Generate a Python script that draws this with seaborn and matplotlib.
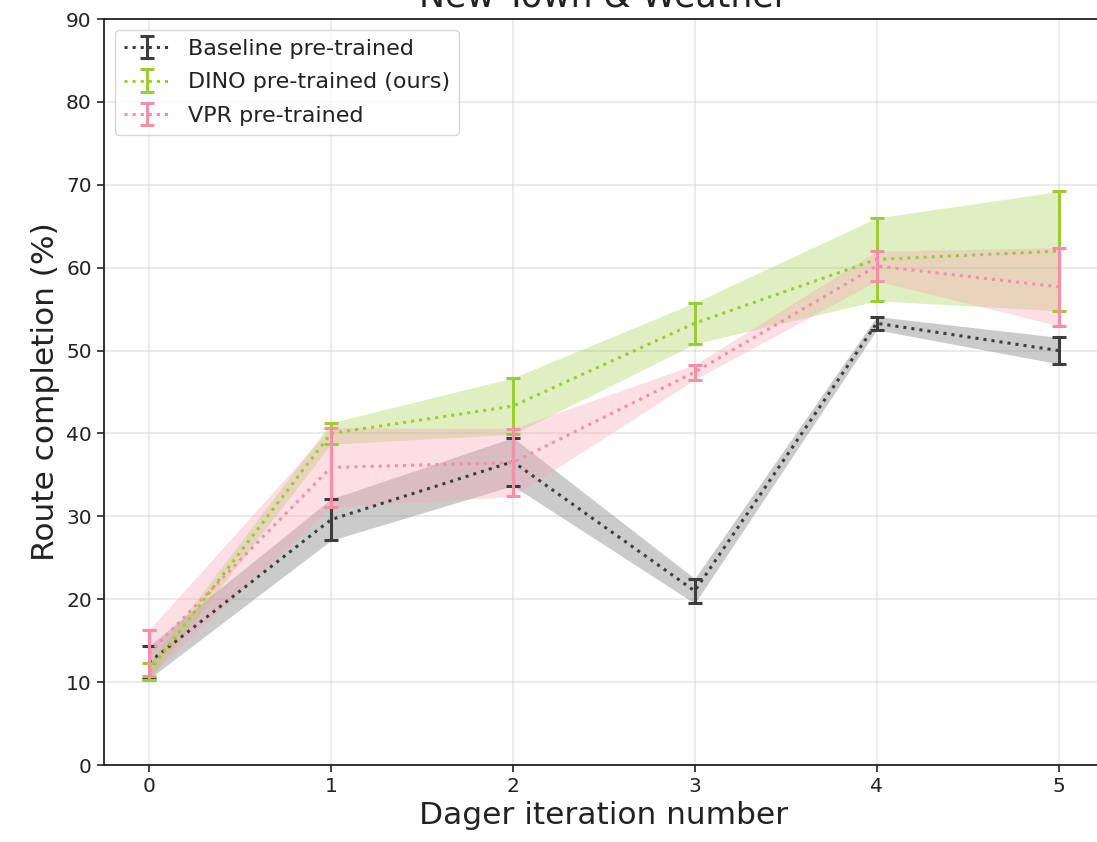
import numpy as np
import pandas as pd
import matplotlib
matplotlib.use("Agg")
import matplotlib.pyplot as plt
from matplotlib.container import ErrorbarContainer
import seaborn as sns

iterations = [0, 1, 2, 3, 4, 5]

baseline_mean = [12.4, 29.6, 36.6, 21.0, 53.3, 50.0]
baseline_err = [2.0, 2.5, 2.9, 1.5, 0.8, 1.6]

dino_mean = [11.3, 40.0, 43.3, 53.3, 61.0, 62.0]
dino_err = [1.0, 1.3, 3.4, 2.5, 5.0, 7.2]

vpr_mean = [13.5, 35.9, 36.5, 47.4, 60.2, 57.7]
vpr_err = [2.8, 4.8, 4.1, 0.9, 1.8, 4.7]

labels = ["Baseline pre-trained", "DINO pre-trained (ours)", "VPR pre-trained"]
colors = ["#3d3d3d", "#9acd32", "#f48fa5"]
band_colors = ["#7f7f7f", "#9acd32", "#f7a3b5"]
band_alpha = [0.4, 0.3, 0.35]

sns.set_theme(style="ticks")
plt.rcParams['font.family'] = ['DejaVu Sans']

fig = plt.figure(figsize=(10.97, 8.42), dpi=100)
ax = fig.add_axes([0.0944, 0.0914, 0.912, 0.886])

series = [(baseline_mean, baseline_err), (dino_mean, dino_err), (vpr_mean, vpr_err)]
handles = []
for (m, e), lab, c, bc, ba in zip(series, labels, colors, band_colors, band_alpha):
    m = np.array(m); e = np.array(e)
    df = pd.DataFrame({"x": iterations, "y": m})
    ax.fill_between(iterations, m - e, m + e, color=bc, alpha=ba, linewidth=0)
    sns.lineplot(data=df, x="x", y="y", ax=ax, color=c, linestyle=":", linewidth=2.2,
                 legend=False)
    line = ax.lines[-1]
    eb = ax.errorbar(iterations, m, yerr=e, fmt="none", ecolor=c, elinewidth=2.2,
                     capsize=4.7, capthick=2.2)
    handles.append(ErrorbarContainer((line, eb[1], eb[2]), has_xerr=False,
                                     has_yerr=True, label=lab))

ax.set_xlim(-0.25, 5.25)
ax.set_ylim(0, 90)
ax.set_xticks(iterations)
ax.set_yticks(np.arange(0, 91, 10))
ax.tick_params(labelsize=14.5, length=5, width=1.2, colors="#222222")
ax.grid(True, color="#cccccc", alpha=0.45, linewidth=1.2)
for s in ax.spines.values():
    s.set_linewidth(1.3)
    s.set_color("#222222")

ax.set_xlabel("Dager iteration number", fontsize=22.5, color="#222222")
ax.set_ylabel("Route completion (%)", fontsize=22.5, color="#222222")
ax.set_title("New Town & Weather", fontsize=25, pad=9, color="#222222")

leg = ax.legend(handles=handles, labels=labels, loc="upper left", fontsize=16,
                frameon=True, framealpha=0.8, borderpad=0.4, handlelength=2.1,
                labelspacing=0.6)
for t in leg.get_texts():
    t.set_color("#222222")

fig.savefig("out.png", dpi=100)
